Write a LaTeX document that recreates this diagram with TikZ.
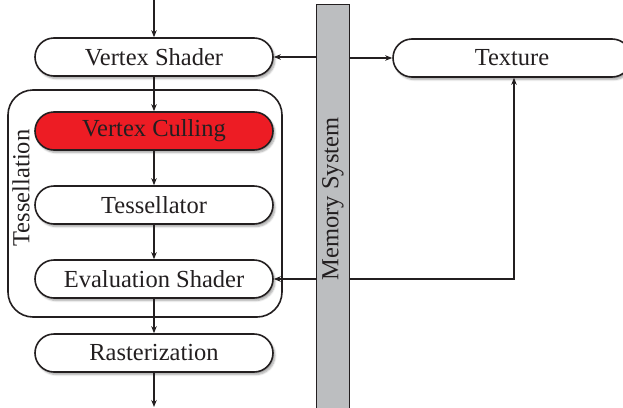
\documentclass[tikz,border=0pt]{standalone}
\usepackage{fontspec}
\setmainfont{Liberation Serif}
\usetikzlibrary{arrows.meta,shadows.blur}
\definecolor{ink}{HTML}{231F20}
\definecolor{cullred}{HTML}{ED1C24}
\definecolor{memgray}{HTML}{BCBEC0}
\tikzset{
  stage/.style={draw=ink, line width=1.6pt, rounded corners=19pt, minimum width=238pt, minimum height=38pt, inner sep=0pt, fill=white, font=\fontsize{24.5}{26}\selectfont, text=ink,
    blur shadow={shadow xshift=2pt, shadow yshift=-2.5pt, shadow blur steps=6, shadow opacity=35}},
  flow/.style={draw=ink, line width=1.3pt, -{Stealth[length=7pt,width=5.5pt]}},
  lbl/.style={font=\fontsize{24.5}{26}\selectfont, text=ink, inner sep=0pt},
}
\begin{document}
\begin{tikzpicture}[x=1pt,y=-1pt]
\useasboundingbox (0,0) rectangle (623,407);
% group
\draw[ink, line width=1.6pt, rounded corners=25pt] (8,90) rectangle (282,317);
\node[lbl, rotate=90] (tesslbl) at (21,188) {Tessellation};
% memory bar
\node[draw=ink, line width=1pt, fill=memgray, minimum width=33pt, minimum height=410pt, inner sep=0pt, anchor=north] (mem) at (332.5,4) {};
\node[lbl, rotate=90] (memlbl) at (333,199) {Memory System};
% stages
\node[stage] (vs) at (154,57) {Vertex Shader};
\node[stage, fill=cullred] (vc) at (154,131) {Vertex Culling};
\node[stage] (ts) at (154,205) {Tessellator};
\node[stage] (es) at (154,279) {Evaluation Shader};
\node[stage] (rz) at (154,353) {Rasterization};
\node[stage] (tx) at (512,58) {Texture};
\coordinate (in) at (154,0);
\coordinate (out) at (154,407);
% flow
\draw[flow] (in) -- (vs);
\draw[flow] (vs) -- (vc);
\draw[flow] (vc) -- (ts);
\draw[flow] (ts) -- (es);
\draw[flow] (es) -- (rz);
\draw[flow] (rz) -- (out);
% memory connections
\draw[flow] (mem.west |- vs.east) -- (vs.east);
\draw[flow] (mem.east |- tx.west) -- (tx.west);
\draw[flow] (mem.west |- es.east) -- (es.east);
\draw[flow] (mem.east |- es.east) -| (tx.south -| 514,0);
\end{tikzpicture}
\end{document}
